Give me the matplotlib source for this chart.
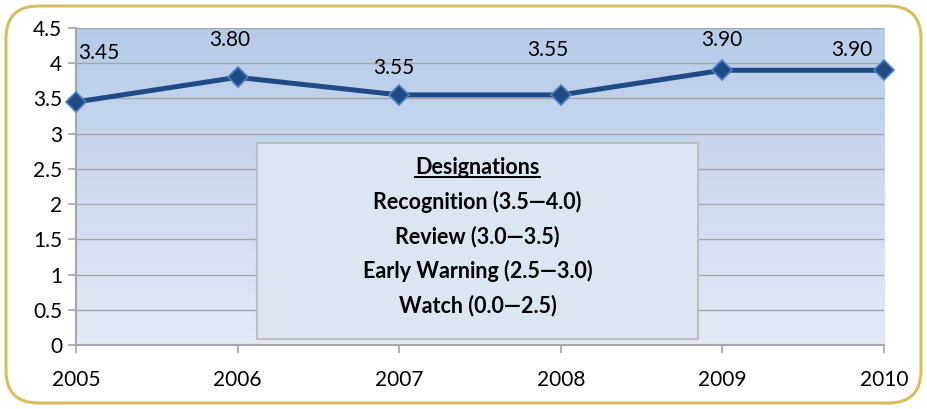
import numpy as np
import matplotlib
matplotlib.use("Agg")
import matplotlib.pyplot as plt
from matplotlib.patches import FancyBboxPatch, Rectangle

years = [2005, 2006, 2007, 2008, 2009, 2010]
scores = [3.45, 3.80, 3.55, 3.55, 3.90, 3.90]
score_labels = ["3.45", "3.80", "3.55", "3.55", "3.90", "3.90"]
y_ticks = [0, 0.5, 1, 1.5, 2, 2.5, 3, 3.5, 4, 4.5]
y_tick_labels = ["0", "0.5", "1", "1.5", "2", "2.5", "3", "3.5", "4", "4.5"]
box_title = "Designations"
box_lines = ["Recognition (3.5\u20144.0)", "Review (3.0\u20143.5)",
             "Early Warning (2.5\u20143.0)", "Watch (0.0\u20142.5)"]

plt.rcParams['font.family'] = ['Lato', 'DejaVu Sans']

W, H = 927, 409
fig = plt.figure(figsize=(W / 100, H / 100), dpi=100, facecolor="white")

# outer rounded border
border = FancyBboxPatch((6 / W, 6 / H), (W - 12) / W, (H - 12) / H,
                        boxstyle="round,pad=0,rounding_size=0.035",
                        transform=fig.transFigure, facecolor="none",
                        edgecolor="#D6BF5E", linewidth=2.2,
                        mutation_aspect=W / H, zorder=-1)
fig.patches.append(border)

ax = fig.add_axes([76 / W, 1 - 345 / H, (884 - 76) / W, (345 - 28) / H])
ax.set_facecolor("none")

# gradient background
grad = np.linspace(0, 1, 256).reshape(-1, 1)
top = np.array([0xB6, 0xCB, 0xEA]) / 255
bot = np.array([0xE4, 0xEA, 0xF6]) / 255
img = top[None, None, :] * (1 - grad[:, :, None]) + bot[None, None, :] * grad[:, :, None]
ax.imshow(img, extent=[0, 1, 0, 1], transform=ax.transAxes, aspect="auto", zorder=0)

ax.set_xlim(years[0], years[-1])
ax.set_ylim(0, 4.5)
ax.set_yticks(y_ticks)
ax.set_yticklabels(y_tick_labels)
ax.set_xticks(years)
ax.set_xticklabels([str(y) for y in years])
ax.yaxis.grid(True, color="#A6A6A6", linewidth=1.0, zorder=1)
ax.set_axisbelow(True)
for s in ["top", "right"]:
    ax.spines[s].set_visible(False)
for s in ["left", "bottom"]:
    ax.spines[s].set_color("#A6A6A6")
    ax.spines[s].set_linewidth(1.5)
ax.tick_params(axis="both", colors="#A6A6A6", labelcolor="black",
               labelsize=15, length=6, width=1.2, direction="out")
ax.tick_params(axis="x", pad=12)
ax.tick_params(axis="y", pad=4)

ax.plot(years, scores, color="#1F4A82", linewidth=3.6, marker="D",
        markersize=10, markerfacecolor="#1F4A82", markeredgecolor="#4F7FBF",
        markeredgewidth=1.2, zorder=5, clip_on=False)

offsets = [49, 37, 27, 45, 30, 20]
has = ["left", "center", "center", "center", "center", "right"]
xoff = [2, -8, -5, -13, -1, -12]
for x, y, lab, oy, ha, ox in zip(years, scores, score_labels, offsets, has, xoff):
    ax.annotate(lab, (x, y), xytext=(ox, oy), textcoords="offset pixels",
                ha=ha, va="center", fontsize=15, zorder=6)

# designations box
bx0, by0, bx1, by1 = 257, 143, 698, 339
rect = Rectangle((bx0 / W, 1 - by1 / H), (bx1 - bx0) / W, (by1 - by0) / H,
                 transform=fig.transFigure, facecolor="#DCE6F2",
                 edgecolor="#BFBFBF", linewidth=1.5, zorder=10)
fig.patches.append(rect)
cx = (bx0 + bx1) / 2 / W
ys = [167, 202, 237, 271, 306]
t = fig.text(cx, 1 - ys[0] / H, box_title, ha="center", va="center",
             fontsize=15.5, fontweight="bold", zorder=11)
# underline title
fig.canvas.draw()
bb = t.get_window_extent()
fig.add_artist(plt.Line2D([bb.x0 / W, bb.x1 / W], [(bb.y0 + 1) / H, (bb.y0 + 1) / H],
                          transform=fig.transFigure, color="black", linewidth=1.4, zorder=11))
for yy, line in zip(ys[1:], box_lines):
    fig.text(cx, 1 - yy / H, line, ha="center", va="center",
             fontsize=15.5, fontweight="bold", zorder=11)

fig.savefig("out.png", dpi=100)
